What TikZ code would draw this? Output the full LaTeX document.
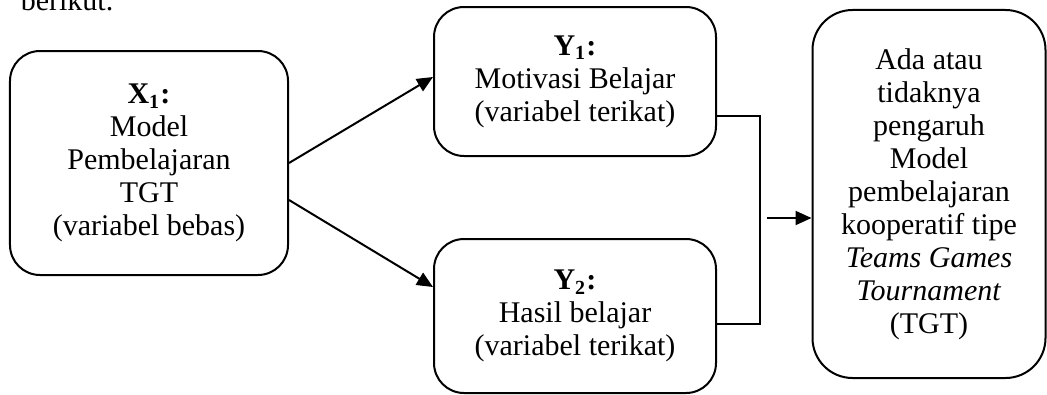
\documentclass[tikz,border=0pt]{standalone}
\usepackage{fontspec}
\setmainfont{Liberation Serif}
\usetikzlibrary{arrows.meta}

\begin{document}
\begin{tikzpicture}[x=0.4pt, y=-0.4pt,
                    every node/.style={font=\fontsize{12}{13.2}\selectfont},
                    kotak/.style={draw, line width=0.8pt, rounded corners=12pt, align=center},
                    panah/.style={line width=0.8pt, -{Triangle[length=6.4pt, width=5.6pt]}},
                    garis/.style={line width=0.45pt}]
                    \clip (0,0) rectangle (1047,394);
                    \node[anchor=base west] (teks) at (12,10) {berikut.};
                    \node[kotak, minimum width=111.2pt, minimum height=89.6pt] (x1) at (149,163)
                        {\textbf{X\textsubscript{1}:}\\Model\\Pembelajaran\\TGT\\(variabel bebas)};
                    \node[kotak, minimum width=112.8pt, minimum height=59.6pt] (y1) at (575,81.5)
                        {\textbf{Y\textsubscript{1}:}\\Motivasi Belajar\\(variabel terikat)};
                    \node[kotak, minimum width=112.8pt, minimum height=61.6pt] (y2) at (575,316)
                        {\textbf{Y\textsubscript{2}:}\\Hasil belajar\\(variabel terikat)};
                    \node[kotak, rounded corners=16pt, minimum width=93.2pt, minimum height=147.2pt] (hasil) at (929,194)
                        {Ada atau\\tidaknya\\pengaruh\\Model\\pembelajaran\\kooperatif tipe\\\textit{Teams Games}\\\textit{Tournament}\\(TGT)};
                    \coordinate (sambung) at (760,220);
                    \coordinate (mulai) at (767,218);
                    \draw[panah] (x1.east) -- ([yshift=1.8pt]y1.west);
                    \draw[panah] ([yshift=-14.8pt]x1.east) -- ([yshift=11.6pt]y2.west);
                    \draw[garis] ([yshift=-13.8pt]y1.east) -| (sambung) |- ([yshift=-3.2pt]y2.east);
                    \draw[panah] (mulai) -- (mulai -| hasil.west);
                \end{tikzpicture}
\end{document}
